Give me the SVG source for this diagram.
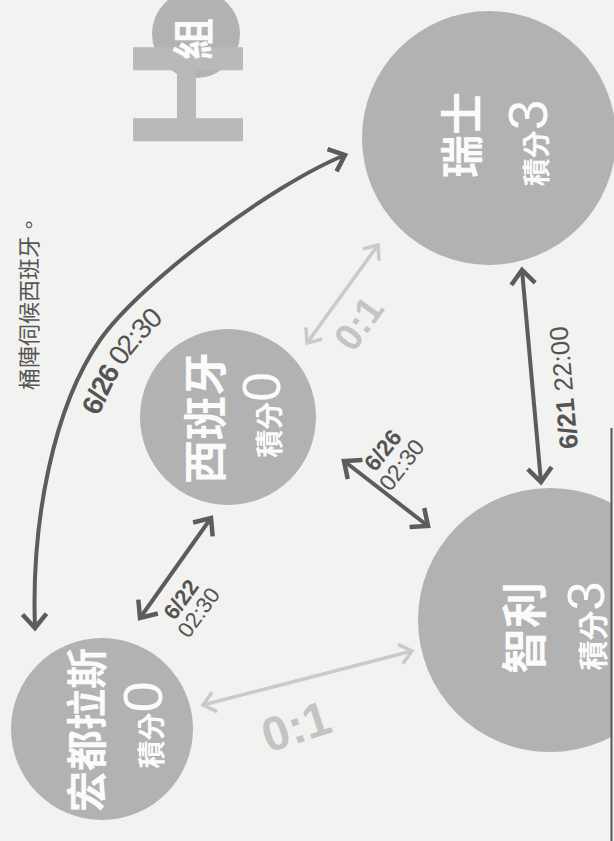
<svg xmlns="http://www.w3.org/2000/svg" width="614" height="841" viewBox="0 0 614 841">
<style>
.bg{fill:#f2f2f0}
.ball{fill:#b2b2b2}
.nm{font-family:"Noto Sans CJK TC","Noto Sans CJK SC",sans-serif;font-weight:700;fill:#fbfbfb}
.num{font-family:"Liberation Sans",Arial,sans-serif;font-weight:400;fill:#fbfbfb}
.dark{fill:none;stroke:#5c5c5c;stroke-width:4;marker-start:url(#hd);marker-end:url(#hd)}
.light{fill:none;stroke:#cacaca;stroke-width:3.5;marker-start:url(#hl);marker-end:url(#hl)}
.lab{font-family:"Liberation Sans",Arial,sans-serif;fill:#545454}
.lbl{font-family:"Liberation Sans",Arial,sans-serif;font-weight:700;fill:#c4c4c4}
.cap{font-family:"Noto Sans CJK TC","Noto Sans CJK SC",sans-serif;fill:#555}
</style>
<defs>
<marker id="hd" markerUnits="userSpaceOnUse" viewBox="-20 -16 24 32" refX="0" refY="0" markerWidth="24" markerHeight="32" orient="auto-start-reverse">
<path d="M-14,-12 L0,0 L-14,12" fill="none" stroke="#5c5c5c" stroke-width="4.5"/>
</marker>
<marker id="hl" markerUnits="userSpaceOnUse" viewBox="-20 -16 24 32" refX="0" refY="0" markerWidth="24" markerHeight="32" orient="auto-start-reverse">
<path d="M-12,-10 L0,0 L-12,10" fill="none" stroke="#cacaca" stroke-width="3.5"/>
</marker>
<clipPath id="frame"><rect x="0" y="0" width="611" height="841"/></clipPath>
<path id="arc" d="M35,628 C31,520 54,406 100,340 C140,283 271,185 345,155"/>
</defs>
<rect class="bg" x="0" y="0" width="614" height="841"/>
<g id="caption">
<text class="cap" font-size="22" transform="translate(37,390) rotate(-90)">桶陣伺候西班牙。</text>
</g>
<g id="title">
<circle class="ball" cx="196" cy="34" r="44"/>
<text font-family="Liberation Sans,Arial,sans-serif" font-weight="700" font-size="160" fill="#b9b9b9" transform="translate(243,152) rotate(-90)">H</text>
<text class="nm" font-size="42" text-anchor="middle" transform="translate(196,39) rotate(-90)" x="0" y="13">組</text>
</g>
<g id="connectors">
<use href="#arc" class="dark"/>
<text class="lab" font-size="28"><textPath href="#arc" startOffset="228"><tspan dy="34" font-weight="700">6/26</tspan><tspan> 02:30</tspan></textPath></text>
<line class="dark" x1="541" y1="482" x2="522" y2="270"/>
<text class="lab" font-size="26" transform="translate(578,448) rotate(-95)"><tspan font-weight="700">6/21</tspan> 22:00</text>
<line class="dark" x1="344" y1="461" x2="428" y2="526"/>
<g transform="translate(389,455) rotate(-52)">
<text class="lab" font-size="23" text-anchor="middle"><tspan x="0" y="0" font-weight="700">6/26</tspan><tspan x="0" y="24">02:30</tspan></text>
</g>
<line class="dark" x1="140" y1="618" x2="211" y2="518"/>
<g transform="translate(187,604) rotate(-54)">
<text class="lab" font-size="22" text-anchor="middle"><tspan x="0" y="0" font-weight="700">6/22</tspan><tspan x="0" y="22">02:30</tspan></text>
</g>
<line class="light" x1="307" y1="343" x2="378" y2="245"/>
<text class="lbl" font-size="38" text-anchor="middle" transform="translate(358,323) rotate(-54)" x="0" y="14">0:1</text>
<line class="light" x1="203" y1="705" x2="412" y2="651"/>
<text class="lbl" font-size="48" text-anchor="middle" transform="translate(296,726) rotate(-18)" x="0" y="17">0:1</text>
</g>
<g id="swiss" transform="translate(489,138) rotate(-90)">
<circle class="ball" cx="0" cy="0" r="127"/>
<text class="nm" font-size="43" text-anchor="middle" x="3" y="-11">瑞士</text>
<text text-anchor="middle" x="-5" y="58"><tspan class="nm" font-size="28">積分</tspan><tspan class="num" font-size="55">3</tspan></text>
</g>
<g id="spain" transform="translate(228,417) rotate(-90)">
<circle class="ball" cx="0" cy="0" r="88"/>
<text class="nm" font-size="44" text-anchor="middle" x="-1" y="-6">西班牙</text>
<text text-anchor="middle" x="2" y="52"><tspan class="nm" font-size="28">積分</tspan><tspan class="num" font-size="53">0</tspan></text>
</g>
<g id="honduras" transform="translate(102,729) rotate(-90)">
<circle class="ball" cx="0" cy="0" r="91"/>
<text class="nm" font-size="41" text-anchor="middle" x="-1" y="0">宏都拉斯</text>
<text text-anchor="middle" x="4" y="60"><tspan class="nm" font-size="28">積分</tspan><tspan class="num" font-size="56">0</tspan></text>
</g>
<g id="chile">
<circle class="ball" cx="550" cy="620" r="132" clip-path="url(#frame)"/>
<g transform="translate(550,620) rotate(-90)">
<text class="nm" font-size="46" text-anchor="middle" x="-8" y="-9">智利</text>
<text text-anchor="middle" x="-6" y="54"><tspan class="nm" font-size="30">積分</tspan><tspan class="num" font-size="52">3</tspan></text>
</g>
</g>
<line id="frame-rule" x1="611.5" y1="428" x2="611.5" y2="841" stroke="#555" stroke-width="2"/>
</svg>
